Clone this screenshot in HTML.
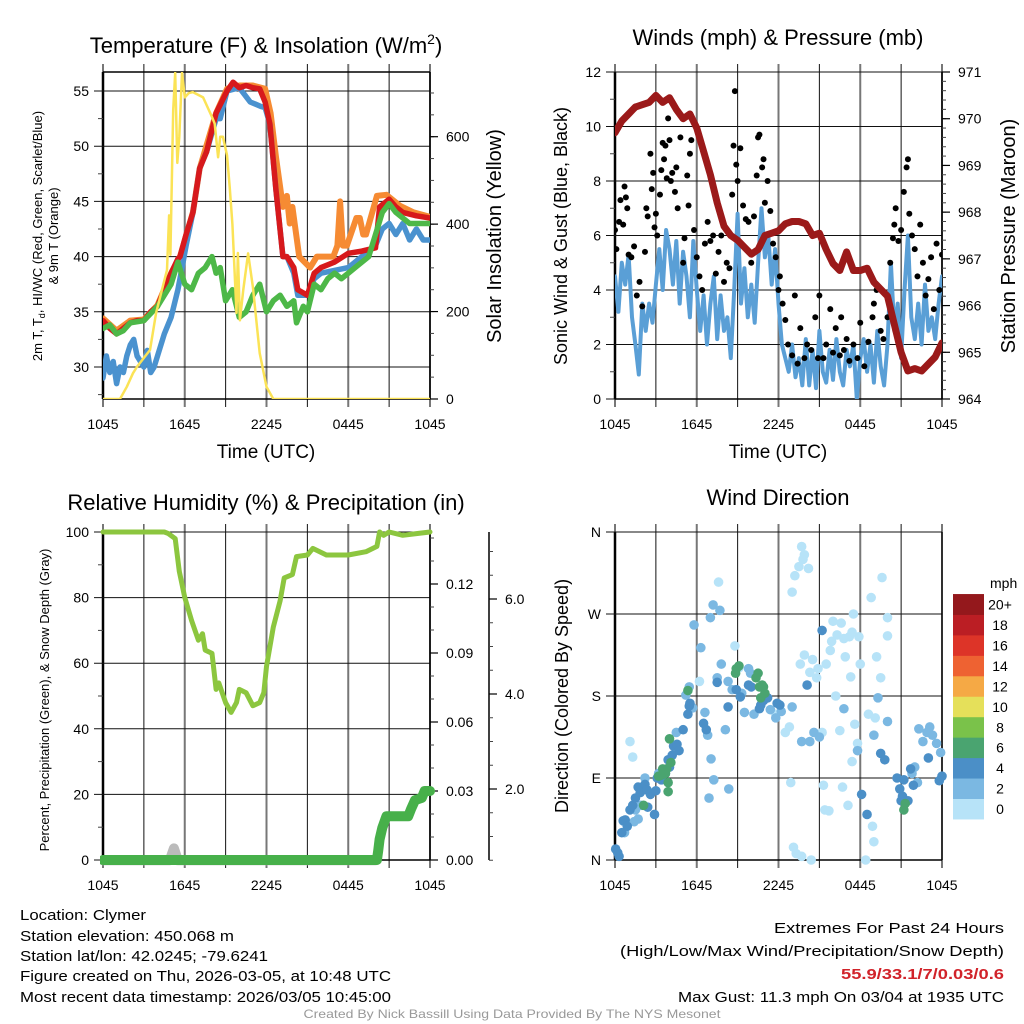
<!DOCTYPE html>
<html><head><meta charset="utf-8"><style>
html,body{margin:0;padding:0;background:#fff;}
svg{display:block;font-family:"Liberation Sans",sans-serif;}
</style></head><body>
<svg id="fig" width="1024" height="1024" viewBox="0 0 1024 1024" xmlns="http://www.w3.org/2000/svg">
<defs>
<clipPath id="c1"><rect x="103" y="72" width="327" height="327"/></clipPath>
<clipPath id="c2"><rect x="615" y="72" width="327" height="327"/></clipPath>
<clipPath id="c3"><rect x="100" y="525" width="340" height="345"/></clipPath>
<clipPath id="c4"><rect x="608" y="525" width="340" height="342"/></clipPath>
</defs>
<g id="g1"></g>
<g id="g2"></g>
<g id="g3"></g>
<g id="g4"></g>
<g id="gt" font-size="15">
<text x="20" y="920" textLength="126" lengthAdjust="spacingAndGlyphs">Location: Clymer</text>
<text x="20" y="941" textLength="214" lengthAdjust="spacingAndGlyphs">Station elevation: 450.068 m</text>
<text x="20" y="961" textLength="248" lengthAdjust="spacingAndGlyphs">Station lat/lon: 42.0245; -79.6241</text>
<text x="20" y="981" textLength="371" lengthAdjust="spacingAndGlyphs">Figure created on Thu, 2026-03-05, at 10:48 UTC</text>
<text x="20" y="1002" textLength="371" lengthAdjust="spacingAndGlyphs">Most recent data timestamp: 2026/03/05 10:45:00</text>
<text x="1004" y="933" text-anchor="end" textLength="230" lengthAdjust="spacingAndGlyphs">Extremes For Past 24 Hours</text>
<text x="1004" y="956" text-anchor="end" textLength="384" lengthAdjust="spacingAndGlyphs">(High/Low/Max Wind/Precipitation/Snow Depth)</text>
<text x="1004" y="979" text-anchor="end" textLength="163" lengthAdjust="spacingAndGlyphs" fill="#d1232a" font-weight="bold">55.9/33.1/7/0.03/0.6</text>
<text x="1004" y="1002" text-anchor="end" textLength="326" lengthAdjust="spacingAndGlyphs">Max Gust: 11.3 mph On 03/04 at 1935 UTC</text>
<text x="512" y="1018" text-anchor="middle" font-size="12" fill="#999" textLength="417" lengthAdjust="spacingAndGlyphs">Created By Nick Bassill Using Data Provided By The NYS Mesonet</text>
</g>
</svg>
<script>
// ---------- DATA ----------
const xTickLabels = ["1045","1645","2245","0445","1045"];
const redT = [0,0.5,1,1.5,2,2.5,3,3.5,4,4.5,5,5.5,5.65,6.1,6.6,7.1,7.6,8.3,9.1,9.55,10,10.5,11,11.5,11.9,12.25,12.7,13.2,13.5,14,14.3,15,15.5,16,17,18,19,20,20.3,21,21.5,22,23,24];
const redV = [34.2,33.5,33.0,33.5,34.0,34.2,34.2,35,35.5,37,38.5,39.8,40,42,44,48,49.5,53,55,55.8,55.3,55.5,55.3,55.2,54,52,46,40,40,39,37,36.5,38.5,39,39.5,40.3,40.5,40.8,44.5,45.2,44.5,44,43.7,43.5];
const orangeT = [0,1,2,3,4,5,5.65,6.6,7.1,8.3,9.1,10,11,11.9,12.3,12.7,13.2,13.5,13.7,13.9,14.4,15.2,15.7,16.9,17.2,17.4,17.6,17.9,18.6,18.85,19.1,19.3,20.1,20.8,21.8,22.8,24];
const orangeV = [34.4,33.3,34.2,34.3,35.6,38.5,40,44,48,53,55.2,55.5,55.5,55.2,53,49,44.5,45.5,43,44.5,40,39,40,40,41,45,41,41,43.5,43.5,42,42,45.5,45.6,44.6,44,43.6];
const greenT = [0,0.5,1,1.5,2,3,4,5,5.5,6,6.5,7,7.5,8,8.3,8.6,9,9.5,10,10.5,11,11.5,12,12.5,13,13.5,14,14.2,14.7,15,15.5,16,16.5,17,17.5,18,18.5,19,19.5,20,20.5,21,21.5,22,22.5,23,24];
const greenV = [33.5,33.8,33.0,33.3,34.0,34.2,35.5,37.5,39.5,37.5,37,38.5,39,40,38.5,39,36,37,34.5,35,36.5,37.5,35,36,36.5,35.5,36,34,35.5,35,37.5,37,38,38.5,38,38.5,39,39.5,40,42,44,44.8,44,43.5,43,43,43];
const blueT = [0,0.25,0.5,0.75,1,1.25,1.5,1.75,2,2.25,2.5,2.75,3,3.25,3.5,3.75,4,4.5,5,5.5,5.65,6.1,6.6,7.1,7.6,8.3,8.6,9.1,10,10.8,11.2,11.6,11.9,12.25,12.7,13.2,13.5,14,14.3,15,15.5,16,18,20,20.5,21,21.5,22,22.5,23,23.5,24];
const blueV = [29,31,29.5,30.5,28.5,30,29.5,31,32,32.5,31,30.5,30,31.5,29.5,30,31,33,34.5,37,38,41,44,48,49.5,52.5,52.5,55,55.3,54,53.8,53.6,53.5,52,46,40,40,38.5,36.5,36.5,38,38.5,39,41,42.5,43,42,43,41.5,42.5,41.5,41.5];
const solarT = [0,1.25,1.75,2.2,2.5,3.45,3.9,4.7,4.85,4.95,5.15,5.3,5.45,5.6,5.8,6.0,6.3,6.6,7.35,8.0,8.2,8.45,8.6,8.8,9.1,9.3,9.5,9.8,9.9,10.05,10.3,10.65,11.0,11.5,12,12.5,24];
const solarV = [0,0,28,59,74,112,197,295,420,330,661,746,540,600,746,690,700,702,690,645,630,553,600,600,558,485,400,197,334,180,250,333,256,105,28,0,0];
const tempTicks = [30,35,40,45,50,55];
const solarTicks = [0,200,400,600];

const pressT = [0,0.5,1,1.5,2,2.5,3,3.5,4,4.5,5,5.5,6,6.5,7,7.5,8,8.5,9,9.5,10,10.5,11,11.5,12,12.5,13,13.5,14,14.5,15,15.5,16,16.5,17,17.5,18,18.5,19,19.5,20,20.5,21,21.5,22,22.5,23,23.5,24];
const pressV = [969.7,969.95,970.1,970.25,970.3,970.35,970.5,970.35,970.45,970.2,970.0,970.1,969.8,969.3,968.8,968.2,967.7,967.5,967.4,967.25,967.1,967.2,967.5,967.55,967.6,967.75,967.8,967.8,967.75,967.5,967.55,967.2,966.9,966.75,967.15,966.75,966.75,966.8,966.5,966.35,966.2,965.6,965.0,964.6,964.65,964.6,964.75,964.9,965.2];
const windV = [4.5,3.2,5.0,4.2,5.3,3.0,2.0,0.9,3.5, 2.5,3.5,2.8,4.2,5.5,4.0,6.2,5.5, 4.2,5.8,3.5,5.4,4.5,3.0,5.8,4.0, 2.5,3.8,2.0,3.5,4.5,2.2,3.8,2.5, 3.0,1.5,4.0,6.8,3.5,4.8,3.0,4.2, 2.8,5.0,7.0,5.2,6.0,4.2,5.5,3.5, 2.0,1.5,1.0,2.0,0.8,1.5,0.5,2.2, 0.5,1.8,0.4,2.5,1.0,0.6,1.8,0.7, 2.2,1.0,0.5,1.8,1.2,2.0,0.0,1.5, 2.2,1.0,2.0,0.6,2.5,1.2,0.5,2.0, 5.0,2.5,3.5,1.5,4.0,6.0,3.0,2.2, 3.5,2.0,4.2,2.5,3.0,2.2,3.5,4.5];
const windStepHours = 0.25;
const gusts = [[0.0,6.2],[0.1,5.5],[0.3,6.5],[0.4,7.3],[0.6,6.4],[0.7,7.8],[0.8,7.4],[0.9,7.0],[1.0,5.3],[1.2,5.2],[1.4,5.6],[1.6,3.8],[1.8,4.3],[2.0,3.4],[2.2,5.4],[2.3,7.0],[2.4,6.7],[2.6,9.0],[2.7,7.7],[2.8,8.3],[2.9,6.3],[3.0,6.8],[3.1,6.0],[3.3,7.5],[3.4,8.4],[3.5,9.4],[3.6,8.8],[3.7,9.3],[3.8,8.1],[3.9,10.3],[4.0,9.5],[4.1,8.0],[4.2,8.3],[4.4,7.6],[4.5,8.5],[4.6,7.0],[4.8,9.6],[5.0,5.0],[5.1,5.9],[5.3,8.2],[5.4,7.1],[5.5,9.0],[5.6,9.5],[5.8,6.2],[6.0,5.2],[6.2,4.5],[6.4,4.0],[6.6,5.7],[6.8,6.5],[7.0,5.8],[7.2,6.0],[7.4,4.6],[7.6,5.4],[7.8,6.0],[8.0,4.3],[8.2,5.0],[8.4,4.8],[8.6,7.5],[8.7,9.3],[8.8,11.3],[8.9,8.6],[9.0,8.0],[9.2,9.2],[9.4,7.1],[9.6,6.6],[9.8,6.5],[10.0,5.0],[10.2,6.7],[10.4,8.2],[10.5,9.6],[10.6,9.7],[10.8,8.5],[10.9,8.8],[11.0,7.2],[11.2,8.0],[11.4,6.9],[11.6,5.7],[11.8,5.2],[12.0,4.0],[12.1,4.5],[12.3,3.5],[12.5,2.9],[12.7,2.0],[13.0,1.6],[13.2,3.8],[13.4,1.3],[13.6,2.6],[13.9,1.5],[14.1,2.0],[14.4,1.8],[14.7,3.0],[14.9,1.5],[15.0,3.8],[15.3,1.5],[15.5,2.0],[15.8,3.3],[16.0,1.7],[16.2,2.6],[16.5,1.6],[16.6,3.0],[16.8,1.8],[17.0,2.2],[17.2,1.4],[17.5,2.0],[17.8,1.5],[18.0,2.8],[18.3,1.2],[18.6,2.1],[18.9,3.0],[19.0,3.5],[19.2,4.0],[19.5,2.5],[19.7,2.2],[20.0,3.0],[20.2,5.0],[20.4,5.9],[20.5,6.4],[20.6,7.0],[20.8,5.8],[21.0,6.2],[21.2,7.6],[21.4,8.5],[21.5,8.8],[21.6,6.8],[21.8,6.0],[22.0,5.5],[22.2,4.5],[22.4,6.4],[22.6,5.0],[22.8,3.8],[23.0,4.4],[23.2,5.2],[23.4,3.3],[23.6,5.7],[23.8,4.0],[24.0,5.3]];
const windTicks = [0,2,4,6,8,10,12];
const pressTicks = [964,965,966,967,968,969,970,971];

const rhT = [0,4.5,4.8,5.3,5.6,6,6.5,7,7.3,7.5,8,8.3,8.5,9,9.4,9.8,10,10.5,11,11.5,11.8,12,12.5,13,13.3,13.9,14.2,15,15.4,16.4,17,18,19.3,20.1,20.3,20.6,21,22,23,24];
const rhV = [100,100,99.5,98,88,80,73,67,69,64,63,52,54,48,45,48,52,51,47,48,51,59,71,79,86,87,92.5,93,95,93,93,93,94,95.6,100,99,100,99,99.5,100];
const precipT = [0,20.1,20.2,20.3,20.5,20.8,22.4,22.6,22.9,23.4,23.6,24];
const precipV = [0,0,0.004,0.009,0.014,0.019,0.019,0.022,0.026,0.027,0.030,0.030];
const snowT = [0,4.9,5.2,5.5,20];
const snowV = [0.5,0.5,0.75,0.5,0.5];
const rhTicks = [0,20,40,60,80,100];
const precipTicks = [0,0.03,0.06,0.09,0.12];
const precipLabels = ["0.00","0.03","0.06","0.09","0.12"];
const snowTicks = [2,4,6];
const snowLabels = ["2.0","4.0","6.0"];

const dirSpeed2 = [[0.05,12],[0.2,8],[0.3,4],[0.5,30],[0.6,43],[0.75,44],[0.9,37],[1.1,55],[1.3,60],[1.5,68],[1.7,80],[1.85,74],[2.2,83],[2.35,77],[2.4,58],[2.6,72],[2.9,50],[3.0,76],[3.1,90],[3.4,88],[3.7,95],[3.9,110],[4.0,102],[4.2,115],[4.3,125],[4.55,127],[4.7,120],[5.0,143],[5.35,160],[5.45,169],[5.5,172],[6.5,150],[6.7,143],[7.5,195],[8.3,168],[8.9,187],[9.2,179],[9.8,192],[10.0,190],[10.6,166],[10.7,170],[10.9,175],[11.2,178],[11.9,172],[12.1,170],[14.1,192],[15.2,252],[18.1,72],[18.5,50],[19.5,117],[19.8,110],[20.7,90],[20.9,78],[21.0,65],[21.1,70],[21.2,88],[21.5,65],[21.7,100],[21.9,82],[23.0,112],[24.0,92],[23.8,87]];
const dirSpeed1 = [[0.7,30],[1.4,42],[1.5,55],[1.7,45],[1.9,60],[2.2,90],[3.2,95],[4.5,140],[5.2,181],[5.45,190],[5.7,167],[5.8,258],[6.3,233],[6.6,162],[6.8,137],[7.05,111],[7.25,88],[7.5,200],[7.8,215],[8.1,143],[8.3,196],[8.6,187],[9.3,183],[9.5,162],[9.8,210],[9.95,205],[10.2,160],[11.4,165],[11.8,156],[12.2,163],[13.0,168],[13.7,130],[14.3,130],[14.6,140],[15.0,135],[7.2,280],[7.0,266],[7.7,274],[6.9,68],[8.35,78],[17.8,120],[19.0,137],[20.0,152],[22.3,144],[22.6,130],[22.9,140],[23.3,137],[23.6,128],[23.9,118],[23.1,146],[22.0,102],[21.8,95],[22.2,85],[19.3,178],[16.8,166]];
const dirSpeed0 = [[1.1,130],[1.3,113],[6.2,196],[7.6,305],[9.1,211],[12.5,140],[12.8,146],[13.1,14],[13.3,7],[13.7,4],[14.4,0],[13.2,312],[13.0,294],[13.5,322],[13.8,330],[13.9,335],[13.7,344],[14.2,320],[15.3,82],[16.2,180],[15.9,240],[15.5,215],[16.6,260],[16.9,223],[17.3,201],[17.2,245],[16.0,262],[16.3,247],[14.8,200],[14.9,210],[14.3,206],[15.4,55],[15.7,54],[16.7,80],[17.1,60],[17.4,108],[18.9,37],[19.0,20],[18.4,0],[18.6,160],[18.8,288],[19.6,310],[19.2,223],[19.5,200],[20.0,246],[20.0,266],[19.1,156],[17.8,128],[17.6,149],[16.5,142],[15.8,230],[15.2,140],[14.5,220],[13.6,215],[13.9,225],[12.9,85],[11.8,160],[8.8,235],[16.8,243],[18.0,215],[17.9,245],[17.5,270],[17.4,250]];
const dirSpeed3 = [[2.1,60],[3.2,92],[3.4,93],[3.7,95],[3.8,100],[4.0,133],[4.1,107],[3.5,100],[3.9,85],[3.9,75],[5.35,186],[8.9,210],[8.85,205],[9.1,213],[10.35,200],[10.5,205],[10.6,190],[10.8,192],[10.9,190],[10.7,178],[11.0,183],[21.3,62],[21.2,55]];
const dirTicks = [0,90,180,270,360];
const dirLabels = ["N","E","S","W","N"];
const cbLabels = ["0","2","4","6","8","10","12","14","16","18","20+"];
const cbColors = ["#b7e3f8","#7bb8e2","#4b8fc7","#4aa470","#7ac24a","#e5e05a","#f5a945","#ee6232","#dd3428","#bb1e24","#94181c"];

// ---------- HELPERS ----------
const NS = "http://www.w3.org/2000/svg";
function mk(tag, attrs, parent){ const e = document.createElementNS(NS, tag); for (const k in attrs) e.setAttribute(k, attrs[k]); parent.appendChild(e); return e; }
function txt(s, attrs, parent){ const e = mk("text", attrs, parent); e.textContent = s; return e; }
function pathD(ts, vs, xf, yf){ return ts.map((t,i)=>(i?"L":"M")+xf(t).toFixed(1)+","+yf(vs[i]).toFixed(1)).join(""); }

const x1 = t => 103 + t*327/24;
const x2 = t => 615 + t*327/24;

function frame(g, L, T, B, xf){
  for (let h=0; h<=24; h+=3){
    const major = h%6===0;
    const ln = mk("line",{x1:xf(h),x2:xf(h),y1:T-8,y2:B+8,stroke:major?"#777":"#111","stroke-width":major?2:1},g);
    
    
  }
  xTickLabels.forEach((s,i)=>{
    const t = txt(s,{x:xf(i*6),y:B+30,"text-anchor":"middle","font-size":14},g);
    
    
  });
  const ax = mk("line",{x1:L,x2:L,y1:T,y2:B,stroke:"#000","stroke-width":2.5},g);
  
  
}
function hgrid(g, L, R, ticks, yf, labels){
  ticks.forEach((v,i)=>{
    const y = yf(v);
    const ln = mk("line",{x1:L-9,x2:R,y1:y,y2:y,stroke:"#111","stroke-width":1},g);
    
    
    const t = txt(labels?labels[i]:String(v),{x:L-14,y:y+5,"text-anchor":"end","font-size":14},g);
    
    
  });
}
function rightAxis(g, X, T, B, ticks, yf, labels, minorStep, lo, hi){
  const ax = mk("line",{x1:X,x2:X,y1:T,y2:B,stroke:"#000","stroke-width":1.5},g);
  
  
  for (let v=lo; v<=hi+1e-9; v+=minorStep){
    const y=yf(v); if (y<T-0.5||y>B+0.5) continue;
    const m = mk("line",{x1:X,x2:X+4,y1:y,y2:y,stroke:"#444","stroke-width":1},g);
    
    
  }
  ticks.forEach((v,i)=>{
    const y=yf(v);
    const tk = mk("line",{x1:X,x2:X+8,y1:y,y2:y,stroke:"#000","stroke-width":1.2},g);
    
    
    const t = txt(labels?labels[i]:String(v),{x:X+16,y:y+5,"font-size":14},g);
    
    
  });
}
function line(g, clip, ts, vs, xf, yf, color, w, name){
  const p = mk("path",{d:pathD(ts,vs,xf,yf),fill:"none",stroke:color,"stroke-width":w,"stroke-linejoin":"round","stroke-linecap":"round","clip-path":"url(#"+clip+")"},g);
  
  
  return p;
}

// ---------- PANEL 1 ----------
(function(){
  const g = document.getElementById("g1");
  const yT = v => 367 - (v-30)*11.04;
  const yS = v => 399 - v*262.3/600;
  frame(g,103,72,399,x1);
  hgrid(g,103,430,tempTicks,yT);
  for (let v=27.5; v<57; v+=2.5){ if (v%5===0) continue; const m=mk("line",{x1:98,x2:103,y1:yT(v),y2:yT(v),stroke:"#444"},g);   }
  const top = mk("line",{x1:103,x2:430,y1:72,y2:72,stroke:"#000","stroke-width":1.5},g);
   
  const bot = mk("line",{x1:103,x2:430,y1:399,y2:399,stroke:"#000","stroke-width":1.5},g);
   
  rightAxis(g,430,72,399,solarTicks,yS,null,50,0,750);
  line(g,"c1",orangeT,orangeV,x1,yT,"#f68b33",6,"temp-9m-line");
  line(g,"c1",blueT,blueV,x1,yT,"#4a92cf",5.5,"wind-chill-line");
  line(g,"c1",redT,redV,x1,yT,"#d7191c",5.5,"temp-2m-line");
  line(g,"c1",greenT,greenV,x1,yT,"#4db848",5.5,"dewpoint-line");
  line(g,"c1",solarT,solarV,x1,yS,"#fbe356",2.5,"solar-line");
  const tt = txt("Temperature (F) & Insolation (W/m",{x:266,y:53,"text-anchor":"middle","font-size":22},g);
  const sup = document.createElementNS(NS,"tspan"); sup.setAttribute("font-size","14"); sup.setAttribute("dy","-9"); sup.textContent="2"; tt.appendChild(sup);
  const cl = document.createElementNS(NS,"tspan"); cl.setAttribute("dy","9"); cl.textContent=")"; tt.appendChild(cl);
   
  const xl = txt("Time (UTC)",{x:266,y:458,"text-anchor":"middle","font-size":19},g);
   
  const rl = txt("Solar Insolation (Yellow)",{x:0,y:0,"text-anchor":"middle","font-size":20,transform:"translate(501,236) rotate(-90)"},g);
   
  const l1 = txt("2m T, T",{x:0,y:0,"text-anchor":"middle","font-size":13,transform:"translate(42,236) rotate(-90)"},g);
  const sub = document.createElementNS(NS,"tspan"); sub.setAttribute("font-size","9"); sub.setAttribute("dy","3"); sub.textContent="d"; l1.appendChild(sub);
  const rest = document.createElementNS(NS,"tspan"); rest.setAttribute("dy","-3"); rest.textContent=", HI/WC (Red, Green, Scarlet/Blue)"; l1.appendChild(rest);
   
  const l2 = txt("& 9m T (Orange)",{x:0,y:0,"text-anchor":"middle","font-size":13,transform:"translate(58,236) rotate(-90)"},g);
   
})();

// ---------- PANEL 2 ----------
(function(){
  const g = document.getElementById("g2");
  const yW = v => 399 - v*327/12;
  const yP = p => 399 - (p-964)*327/7;
  frame(g,615,72,399,x2);
  hgrid(g,615,942,windTicks,yW);
  for (let v=1; v<12; v+=2){ const m=mk("line",{x1:610,x2:615,y1:yW(v),y2:yW(v),stroke:"#444"},g);   }
  const bot = mk("line",{x1:615,x2:942,y1:399,y2:399,stroke:"#000","stroke-width":1.5},g);
   
  rightAxis(g,942,72,399,pressTicks,yP,null,0.2,964,971);
  const wt = windV.map((v,i)=>i*windStepHours);
  line(g,"c2",wt,windV,x2,yW,"#5a9fd6",4,"sonic-wind-line");
  gusts.forEach(d=>{
    const c = mk("circle",{cx:x2(d[0]),cy:yW(d[1]),r:3,fill:"#000","clip-path":"url(#c2)"},g);
    
    
  });
  line(g,"c2",pressT,pressV,x2,yP,"#9b1a1a",7,"pressure-line");
  const tt = txt("Winds (mph) & Pressure (mb)",{x:778,y:45,"text-anchor":"middle","font-size":22},g);
   
  const xl = txt("Time (UTC)",{x:778,y:458,"text-anchor":"middle","font-size":19},g);
   
  const ll = txt("Sonic Wind & Gust (Blue, Black)",{x:0,y:0,"text-anchor":"middle","font-size":18,transform:"translate(567,236) rotate(-90)"},g);
   
  const rl = txt("Station Pressure (Maroon)",{x:0,y:0,"text-anchor":"middle","font-size":20,transform:"translate(1015,236) rotate(-90)"},g);
   
})();

// ---------- PANEL 3 ----------
(function(){
  const g = document.getElementById("g3");
  const yR = v => 860 - v*3.28;
  const yPr = v => 860 - v*2300;
  const ySn = s => 884 - s*47.5;
  frame(g,103,532,860,x1);
  hgrid(g,103,430,rhTicks,yR);
  for (let v=10; v<100; v+=20){ const m=mk("line",{x1:98,x2:103,y1:yR(v),y2:yR(v),stroke:"#444"},g);   }
  const bot = mk("line",{x1:103,x2:430,y1:860,y2:860,stroke:"#000","stroke-width":1.5},g);
   
  rightAxis(g,430,532,860,precipTicks,yPr,precipLabels,0.01,0,0.14);
  rightAxis(g,489,532,860,snowTicks,ySn,snowLabels,0.5,0.5,7);
  line(g,"c3",snowT,snowV,x1,ySn,"#bbbbbb",10,"snow-depth-line");
  line(g,"c3",precipT,precipV,x1,yPr,"#47b04a",10,"precipitation-line");
  line(g,"c3",rhT,rhV,x1,yR,"#8cc63f",5,"humidity-line");
  const tt = txt("Relative Humidity (%) & Precipitation (in)",{x:266,y:510,"text-anchor":"middle","font-size":22},g);
   
  const ll = txt("Percent, Precipitation (Green), & Snow Depth (Gray)",{x:0,y:0,"text-anchor":"middle","font-size":13,transform:"translate(49,700) rotate(-90)"},g);
   
})();

// ---------- PANEL 4 ----------
(function(){
  const g = document.getElementById("g4");
  const yD = d => 860 - d*328/360;
  frame(g,615,532,860,x2);
  hgrid(g,615,942,dirTicks,yD,dirLabels);
  const bot = mk("line",{x1:615,x2:942,y1:860,y2:860,stroke:"#000","stroke-width":1.5},g);
   
  const rax = mk("line",{x1:942,x2:942,y1:532,y2:860,stroke:"#000","stroke-width":1.2},g);
   
  [[dirSpeed0,0],[dirSpeed1,1],[dirSpeed2,2],[dirSpeed3,3]].forEach(pair=>{
    pair[0].forEach(d=>{
      const c = mk("circle",{cx:x2(d[0]),cy:yD(d[1]),r:4.8,fill:cbColors[pair[1]],"clip-path":"url(#c4)"},g);
      
      
    });
  });
  cbColors.forEach((col,i)=>{
    const y = 819 - (i+1)*20.45;
    const r = mk("rect",{x:953,y:y,width:31,height:20.9,fill:col},g);
    
    
    const t = txt(cbLabels[i],{x:1000,y:y+15.5,"text-anchor":"middle","font-size":14},g);
    
    
  });
  const mph = txt("mph",{x:990,y:588,"font-size":14},g);
   
  const tt = txt("Wind Direction",{x:778,y:505,"text-anchor":"middle","font-size":22},g);
   
  const ll = txt("Direction (Colored By Speed)",{x:0,y:0,"text-anchor":"middle","font-size":18,transform:"translate(568,696) rotate(-90)"},g);
   
})();
</script>
</body></html>
